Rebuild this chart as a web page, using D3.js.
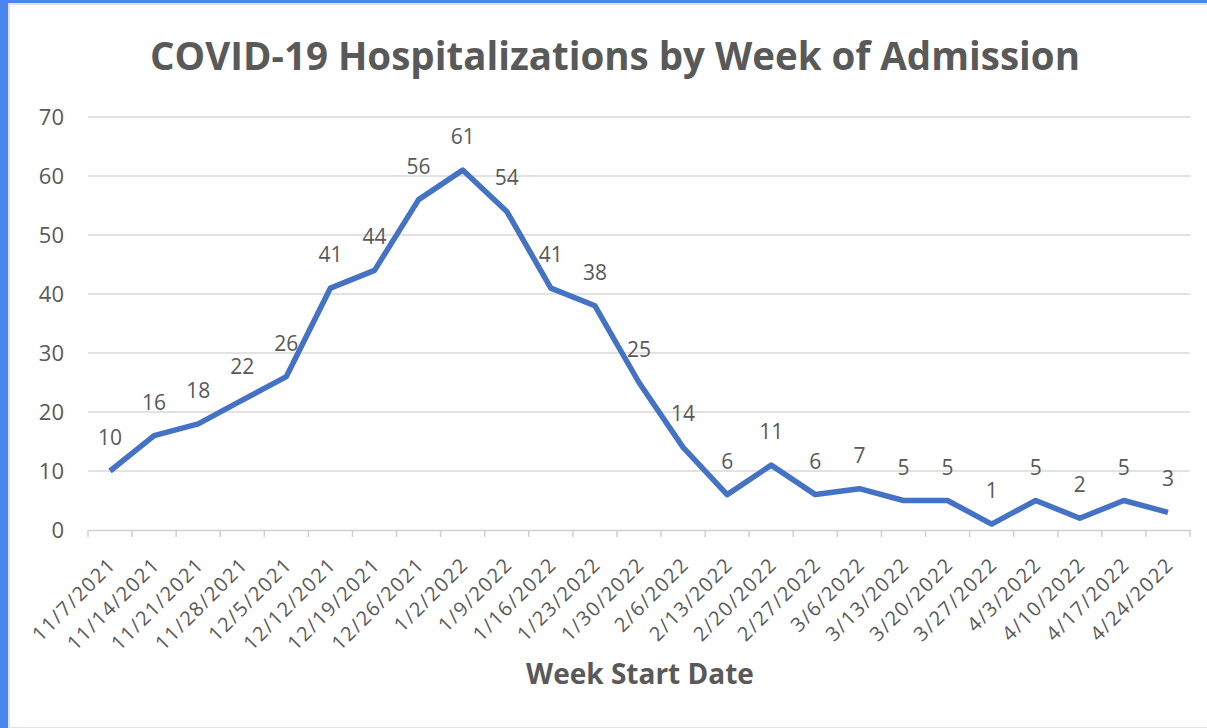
<!DOCTYPE html>
<html>
<head>
<meta charset="utf-8">
<script src="https://cdn.jsdelivr.net/npm/d3@7"></script>
<style>
  html, body { margin: 0; padding: 0; background: #fff; }
  body { width: 1207px; height: 728px; overflow: hidden; position: relative; }
  #frame { position: absolute; left: 0; top: 0; width: 1207px; height: 728px;
           box-sizing: border-box; border-left: 8px solid #4a86f0; border-top: 3px solid #4a86f0; }
  #inner { position: absolute; left: 0; top: 0; right: 0; bottom: 0;
           border-left: 2px solid #e2e2e2; border-top: 2px solid #e2e2e2; border-bottom: 1px solid #e2e2e2; }
  svg { position: absolute; left: 0; top: 0; }
</style>
</head>
<body>
<div id="frame"><div id="inner"></div></div>
<svg width="1207" height="728"></svg>
<script>
var weeks = ["11/7/2021","11/14/2021","11/21/2021","11/28/2021","12/5/2021","12/12/2021",
             "12/19/2021","12/26/2021","1/2/2022","1/9/2022","1/16/2022","1/23/2022",
             "1/30/2022","2/6/2022","2/13/2022","2/20/2022","2/27/2022","3/6/2022",
             "3/13/2022","3/20/2022","3/27/2022","4/3/2022","4/10/2022","4/17/2022","4/24/2022"];
var admissions = [10,16,18,22,26,41,44,56,61,54,41,38,25,14,6,11,6,7,5,5,1,5,2,5,3];
var yTicks = [0,10,20,30,40,50,60,70];

var svg = d3.select("svg"),
    plotLeft = 88, plotRight = 1190, plotTop = 117, plotBottom = 530;
var font = "'Open Sans', 'Noto Sans', sans-serif";
var textColor = "#595959";

svg.append("text")
   .attr("x", 615).attr("y", 70)
   .attr("text-anchor", "middle")
   .attr("font-family", font)
   .attr("font-size", "38.5px")
   .attr("font-weight", "bold")
   .attr("fill", textColor)
   .text("COVID-19 Hospitalizations by Week of Admission");

var xScale = d3.scaleBand().domain(weeks).range([plotLeft, plotRight]),
    yScale = d3.scaleLinear().domain([0, 70]).range([plotBottom, plotTop]);

// grid lines
svg.append("g")
   .selectAll("line")
   .data(yTicks.filter(function(d){ return d > 0; }))
   .enter().append("line")
   .attr("x1", plotLeft).attr("x2", plotRight)
   .attr("y1", function(d){ return yScale(d); })
   .attr("y2", function(d){ return yScale(d); })
   .attr("stroke", "#d9d9d9").attr("stroke-width", 1.5);

// y axis labels
var yAxis = svg.append("g")
   .attr("transform", "translate(" + plotLeft + ",0)")
   .call(d3.axisLeft(yScale).tickValues(yTicks).tickSize(0).tickPadding(24));
yAxis.select(".domain").remove();
yAxis.selectAll("text")
   .attr("font-family", font).attr("font-size", "22px").attr("fill", textColor);

// x axis
var xAxis = svg.append("g")
   .attr("transform", "translate(0," + plotBottom + ")")
   .call(d3.axisBottom(xScale).tickSize(0));
xAxis.select(".domain").attr("stroke", "#d0d0d0").attr("stroke-width", 1.5);
xAxis.selectAll(".tick line").remove();
xAxis.selectAll(".tick text")
   .attr("font-family", font).attr("font-size", "20px").attr("fill", textColor)
   .attr("letter-spacing", "1.5px")
   .attr("text-anchor", "end")
   .attr("dy", "0.35em")
   .attr("transform", "translate(" + (xScale.bandwidth() / 2 - 20) + ",31) rotate(-45)")
   .attr("x", 0).attr("y", 0);

// boundary tick marks
svg.append("g")
   .selectAll("line")
   .data(weeks.concat(["end"]))
   .enter().append("line")
   .attr("x1", function(d, i){ return plotLeft + i * xScale.bandwidth(); })
   .attr("x2", function(d, i){ return plotLeft + i * xScale.bandwidth(); })
   .attr("y1", plotBottom).attr("y2", plotBottom + 7)
   .attr("stroke", "#d0d0d0").attr("stroke-width", 1.5);

var cx = function(d, i){ return xScale(weeks[i]) + xScale.bandwidth() / 2; };

var line = d3.line()
   .x(function(d, i){ return cx(d, i); })
   .y(function(d){ return yScale(d); });

svg.append("path")
   .datum(admissions)
   .attr("d", line)
   .attr("fill", "none")
   .attr("stroke", "#4472c4")
   .attr("stroke-width", 5.5)
   .attr("stroke-linejoin", "round");

svg.append("g")
   .selectAll("text")
   .data(admissions)
   .enter().append("text")
   .attr("x", cx)
   .attr("y", function(d){ return yScale(d) - 26; })
   .attr("text-anchor", "middle")
   .attr("font-family", font).attr("font-size", "21px").attr("fill", textColor)
   .text(function(d){ return d; });

svg.append("text")
   .attr("x", 640).attr("y", 684)
   .attr("text-anchor", "middle")
   .attr("font-family", font)
   .attr("font-size", "28px")
   .attr("font-weight", "bold")
   .attr("fill", textColor)
   .text("Week Start Date");
</script>
</body>
</html>
